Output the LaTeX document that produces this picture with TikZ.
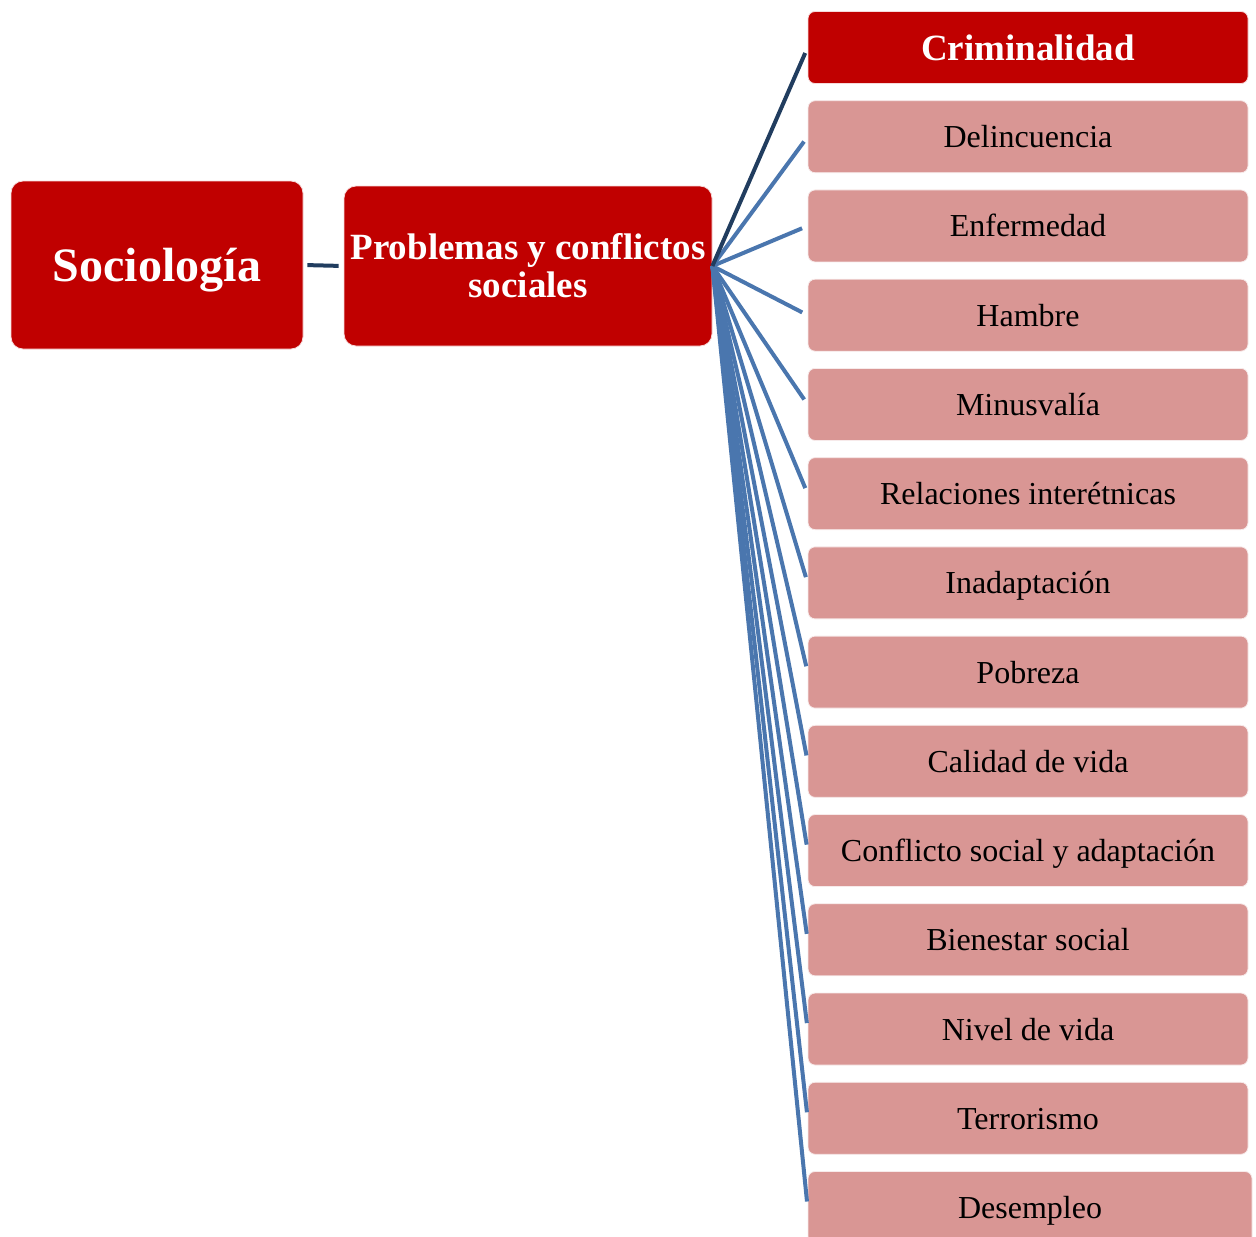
\documentclass[tikz,border=0pt]{standalone}
\usepackage{fontspec}
\setmainfont{Liberation Serif}
\definecolor{darkred}{HTML}{C00000}
\definecolor{pinkbox}{HTML}{D99694}
\definecolor{navyline}{HTML}{213D5F}
\definecolor{blueline}{HTML}{4A76AE}
\begin{document}
\begin{tikzpicture}[x=1pt,y=-1pt,
  bigbox/.style={fill=darkred, draw=white!85!darkred, line width=0.8pt, rounded corners=12pt, text=white, inner sep=0pt, align=center},
  topic/.style={fill=pinkbox, draw=white!80!pinkbox, line width=0.8pt, rounded corners=7pt, minimum width=440pt, minimum height=72pt, inner sep=0pt, text height=26pt, text depth=4pt, font=\fontsize{32}{36}\selectfont},
  toptopic/.style={topic, fill=darkred, draw=white!85!darkred, text=white, text height=29pt, text depth=4pt, font=\bfseries\fontsize{37}{40}\selectfont},
  fanline/.style={blueline, line width=4pt, shorten >=6pt},
  link/.style={navyline, line width=4pt}]
\useasboundingbox (0,0) rectangle (1256,1237);
\clip (0,0) rectangle (1256,1237);
\node[bigbox, minimum width=292pt, minimum height=168pt, text height=36pt, text depth=4pt, font=\bfseries\fontsize{48}{52}\selectfont] (soc) at (157,265) {Sociología};
\node[bigbox, minimum width=368pt, minimum height=160pt, font=\bfseries\fontsize{37}{38}\selectfont] (prob) at (528,266) {Problemas y conflictos\\sociales};
\node[toptopic] (t0) at (1028,47.5) {Criminalidad};
\foreach \lab [count=\i] in {Delincuencia,Enfermedad,Hambre,Minusvalía,Relaciones interétnicas,Inadaptación,Pobreza,Calidad de vida,Conflicto social y adaptación,Bienestar social,Nivel de vida,Terrorismo}{
  \node[topic] (t\i) at (1028,47.5+89.23*\i) {\lab};
}
\node[topic, minimum width=444pt] (t13) at (1030,47.5+89.23*13) {Desempleo};
\foreach \i in {1,...,13}{
  \draw[fanline] (prob.east) -- (t\i.west);
}
\draw[link, shorten >=6pt] (prob.east) -- (t0.west);
\draw[link, shorten <=4pt, shorten >=5pt] (soc.east) -- (prob.west);
\end{tikzpicture}
\end{document}
